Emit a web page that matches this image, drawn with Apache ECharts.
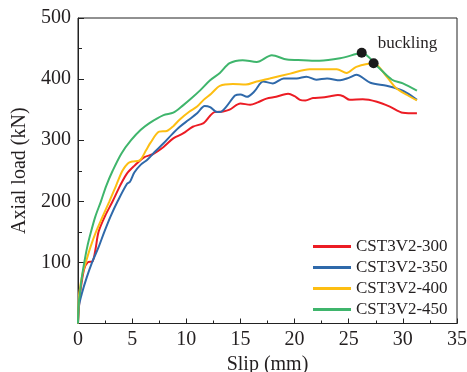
<!DOCTYPE html>
<html>
<head>
<meta charset="utf-8">
<script src="https://cdn.jsdelivr.net/npm/echarts@6/dist/echarts.min.js"></script>
<style>html,body{margin:0;padding:0;background:#fff}#c{width:467px;height:372px}</style>
</head>
<body>
<div id="c"></div>
<script>
const seriesNames = ['CST3V2-300', 'CST3V2-350', 'CST3V2-400', 'CST3V2-450'];
const xTicks = [0, 5, 10, 15, 20, 25, 30, 35];
const yTicks = [100, 200, 300, 400, 500];

const red300 = [[0,0],[0.1,30],[0.2,50],[0.55,88],[0.9,100],[1.35,102],[1.6,120],[1.9,150],[2.5,176],[3.2,200],[3.9,226],[4.5,245],[5.2,258],[6.1,272],[6.9,277],[7.9,289],[8.8,303],[9.7,311],[10.6,322],[11.6,328],[12.2,340],[12.6,346],[13.4,347],[14.0,350],[15.0,360],[15.9,358],[16.6,362],[17.4,368],[18.3,371],[19.4,376],[20.0,372],[20.5,366],[21.0,365],[21.7,369],[22.5,370],[23.3,372],[24.0,374],[24.5,372],[25.1,366],[26.3,367],[27.6,363],[28.8,355],[30.0,345],[31.3,344]];
const blue350 = [[0,0],[0.1,30],[0.37,50],[0.8,75],[1.3,100],[1.9,125],[2.43,150],[3.0,175],[3.66,200],[4.5,228],[4.8,232],[5.2,247],[5.8,260],[6.4,268],[7.1,281],[7.9,295],[8.7,310],[9.4,322],[10.2,333],[11.0,344],[11.7,356],[12.2,354],[12.7,347],[13.1,346],[13.7,355],[14.5,373],[15.0,375],[15.6,371],[16.3,380],[17.1,396],[18.0,393],[19.0,401],[20.2,401],[21.1,404],[22.0,399],[23.0,401],[24.2,398],[25.0,402],[25.7,407],[27.0,394],[28.5,389],[29.7,383],[30.4,377],[31.3,366]];
const yellow400 = [[0,0],[0.05,30],[0.12,50],[0.4,80],[0.72,100],[1.15,125],[1.66,150],[2.3,176],[2.9,200],[3.5,225],[4.1,250],[4.6,262],[5.0,265],[5.7,267],[6.3,284],[6.7,296],[7.5,314],[8.2,315],[8.8,323],[9.4,334],[10.3,347],[11.0,355],[11.6,366],[12.3,376],[13.1,389],[14.3,392],[15.5,391],[16.5,396],[17.7,401],[19.6,409],[21.4,416],[23.0,416],[23.9,416],[24.8,410],[25.7,420],[27.3,426],[28.5,404],[29.4,385],[30.4,374],[31.3,365]];
const green450 = [[0,0],[0.05,30],[0.18,50],[0.35,75],[0.58,100],[0.85,125],[1.2,150],[1.6,175],[2.12,200],[2.6,225],[3.2,250],[4.0,278],[4.9,300],[5.8,317],[6.6,328],[7.9,341],[8.8,345],[9.7,357],[10.5,369],[11.3,382],[12.2,398],[13.1,410],[14.0,426],[15.2,431],[16.5,428],[17.9,439],[19.3,432],[20.8,431],[22.3,430],[24.2,434],[25.7,441],[26.2,443],[27.7,420],[29.0,399],[30.0,393],[31.3,381]];
const bucklingPts = [[26.2,443],[27.3,426]];
const bucklingLabel = 'buckling';

const colors = ['#ec1c24', '#2f69aa', '#fdbe12', '#3fb56c'];
const allData = [red300, blue350, yellow400, green450];

const font = 'Liberation Serif, Times New Roman, serif';
const txt = '#231f20';

const chart = echarts.init(document.getElementById('c'), null, {renderer: 'canvas'});
const series = allData.map((d, i) => ({
  name: seriesNames[i], type: 'line', data: d, smooth: 0.3, symbol: 'none', showSymbol: false,
  lineStyle: {color: colors[i], width: 2}, itemStyle: {color: colors[i]}, z: 2 + i
}));
series.push({
  name: 'buckling', type: 'scatter', symbolSize: 10,
  itemStyle: {color: '#1a1a1a', opacity: 1}, z: 10,
  data: bucklingPts.map((p, i) => ({
    value: p,
    label: i === 0 ? {show: true, formatter: bucklingLabel, position: 'right', offset: [6, -9],
      fontFamily: font, fontSize: 17, color: txt, opacity: 1} : {show: false}
  }))
});

chart.setOption({
  animation: false,
  backgroundColor: '#fff',
  grid: {left: 78, right: 10, top: 18, bottom: 48.5, show: true, borderColor: '#222', borderWidth: 1,
    backgroundColor: 'transparent', containLabel: false, outerBoundsMode: 'none'},
  legend: {
    data: seriesNames.map(n => ({name: n, icon: 'rect'})), orient: 'vertical', left: 308, top: 233,
    itemWidth: 38, itemHeight: 3, itemGap: 4,
    textStyle: {fontFamily: font, fontSize: 17, color: txt}
  },
  xAxis: {
    type: 'value', min: xTicks[0], max: xTicks[xTicks.length - 1], interval: 5,
    name: 'Slip (mm)', nameLocation: 'middle', nameGap: 27,
    nameTextStyle: {fontFamily: font, fontSize: 20, color: txt},
    axisLine: {lineStyle: {color: '#222', width: 1}},
    axisTick: {inside: true, length: 5, lineStyle: {color: '#222'}},
    minorTick: {show: true, splitNumber: 2, length: 3, lineStyle: {color: '#222'}},
    axisLabel: {fontFamily: font, fontSize: 20, color: txt, margin: 6},
    splitLine: {show: false}
  },
  yAxis: {
    type: 'value', min: 0, max: yTicks[yTicks.length - 1], interval: 100,
    name: 'Axial load (kN)', nameLocation: 'middle', nameGap: 45,
    nameTextStyle: {fontFamily: font, fontSize: 20, color: txt},
    axisLine: {show: true, lineStyle: {color: '#222', width: 1}},
    axisTick: {show: true, inside: true, length: 6, lineStyle: {color: '#222'}},
    minorTick: {show: true, splitNumber: 2, length: 4, lineStyle: {color: '#222'}},
    axisLabel: {fontFamily: font, fontSize: 20, color: txt, margin: 7, showMinLabel: false,
      formatter: v => (yTicks.indexOf(v) >= 0 ? String(v) : '')},
    splitLine: {show: false}
  },
  series: series
});
</script>
</body>
</html>
